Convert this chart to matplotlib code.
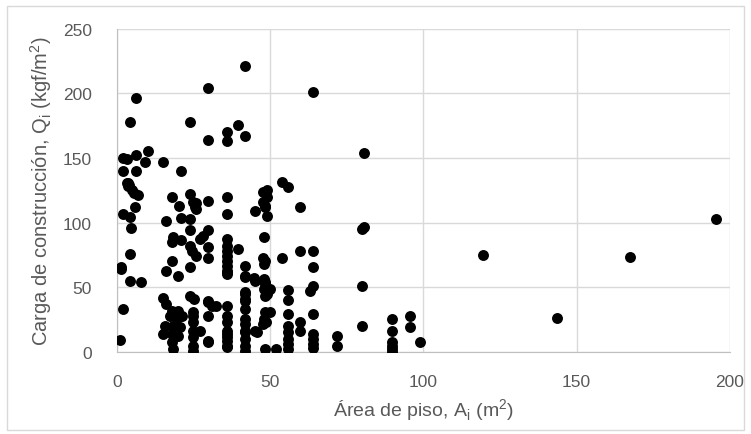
import matplotlib.pyplot as plt
from matplotlib.patches import Rectangle

# Floor area (m2) and construction load (kgf/m2)
area = [
    1.0, 1.3, 1.3,
    2.2, 2.2, 2.2, 2.2,
    3.3, 3.3, 3.6, 4.0, 3.8,
    4.3, 4.6, 4.3, 4.3, 4.2, 4.9, 5.7,
    6.2, 6.2, 6.2, 6.0, 7.0, 7.9, 9.2, 10.1,
    15.2, 15.2, 16.0, 16.0, 16.0,
    17.9, 17.9, 17.9, 18.1, 18.5,
    17.4, 19.6, 21.2, 15.8, 18.5, 20.6, 15.2, 17.9, 20.1, 17.9, 18.5, 20.1,
    20.3, 20.0, 20.9, 20.9, 20.9,
    24.0, 24.0, 24.0, 24.0, 24.0, 24.0, 24.0,
    25.0, 25.5, 24.5, 25.9, 25.2, 25.0, 25.0, 25.0, 25.0, 25.0, 25.0, 25.0,
    26.0, 26.0, 27.2, 27.2, 28.2,
    29.9, 29.9, 29.9, 29.9, 29.9, 29.9, 29.9, 29.9, 29.9, 29.9, 29.9,
    32.4, 31.0,
    35.9, 35.9, 35.9, 35.9, 35.9, 35.9, 35.9, 35.9, 35.9, 35.9, 35.9,
    35.9, 35.9, 35.9, 35.9, 35.9, 35.9, 35.9, 35.9, 35.9, 35.9, 35.9,
    39.7, 39.7,
    41.9, 41.9, 41.9, 41.9, 41.9, 41.9, 41.9, 41.9, 41.9, 41.9, 41.9,
    41.9, 41.9, 41.9, 41.9, 41.9, 41.9,
    45.1, 44.8, 45.1, 45.0, 45.7,
    48.9, 47.8, 48.9, 47.8, 48.4, 48.4, 48.9, 48.0, 47.8, 48.4, 48.0,
    48.0, 48.4, 48.4, 48.0, 48.9, 48.4, 48.4, 48.7, 48.0, 47.8, 48.4,
    50.0, 50.0, 52.0,
    53.8, 53.8,
    56.0, 56.0, 56.0, 56.0, 56.0, 56.0, 56.0, 56.0, 56.0,
    59.8, 59.8, 59.8, 59.8,
    63.9, 63.9, 63.9, 63.9, 63.0, 63.9, 63.9, 63.9, 63.9, 63.9,
    71.8, 71.8,
    80.8, 80.5, 79.9, 79.9, 79.9,
    89.7, 89.7, 89.7, 89.7, 89.7, 89.7,
    95.7, 95.7, 99.0,
    119.5, 143.7, 167.5, 195.3,
]
carga = [
    9.5, 64, 66,
    33, 107, 140, 150,
    149, 131, 131, 129, 128.5,
    104, 96, 75.7, 55, 178, 125.5, 123,
    196, 152, 140, 112, 121.5, 54, 147, 155,
    147, 42, 101.5, 62.8, 37,
    120, 84.8, 32, 70.5, 88.6,
    28, 26.6, 28, 20.3, 20.3, 19, 13.9, 13.9, 12.6, 7.5, 2.3, 31.9,
    112.6, 59, 103.6, 86.6, 140,
    177.5, 122, 103, 94.5, 82, 65.4, 43.5,
    115.7, 112, 78, 74, 41, 30.6, 28, 23, 16.5, 11.4, 4.9, 1,
    115.5, 110.5, 87, 16.5, 90,
    204, 164, 117, 94.5, 81, 73, 39.6, 38.4, 28, 8.7, 7.5,
    35.8, 35.8,
    170, 163, 119.5, 106.6, 87.3, 82, 78, 74, 70.5, 66.7, 63,
    60, 61.6, 35.8, 28, 23, 16.5, 14, 11.4, 8.7, 4.9, 3.6,
    175.4, 79.6,
    221, 167, 66.7, 59, 57.7, 46, 44.8, 41, 39.6, 33, 25.5,
    21.6, 16.5, 15.2, 10, 4.9, 1,
    108.7, 57, 55, 16.5, 15.2,
    125, 123.4, 119.5, 115.7, 113, 112, 105, 88.6, 73, 70.5, 68,
    56.4, 53.9, 52.5, 48.7, 44.8, 43.5, 31, 23, 25.5, 21.6, 2.3,
    49, 30.7, 2.3,
    131.6, 73,
    127.3, 48, 40.4, 29.4, 20.3, 15.2, 10, 6.2, 2.3,
    111.8, 77.8, 23.4, 16.5,
    200.7, 78.3, 65.5, 51, 47.4, 29.4, 13.9, 10, 6.2, 2.9,
    12.6, 4.9,
    153.5, 96.4, 95, 50.8, 20.3,
    25.5, 16.5, 7.5, 4.9, 2.3, 0.2,
    28, 19, 7.5,
    75, 26.3, 73.4, 102.8,
]

x_ticks = [0, 50, 100, 150, 200]
y_ticks = [0, 50, 100, 150, 200, 250]

plt.rcParams['font.family'] = ['Liberation Sans', 'DejaVu Sans']
plt.rcParams['mathtext.fontset'] = 'custom'
plt.rcParams['mathtext.rm'] = 'Liberation Sans'

text_color = '#595959'
grid_color = '#d9d9d9'

fig = plt.figure(figsize=(7.51, 4.35), dpi=100)
ax = fig.add_axes([0.1554, 0.1885, 0.8166, 0.7435])

# chart area border
fig.patches.append(Rectangle((0.009, 0.01), 0.982, 0.975, transform=fig.transFigure,
                             fill=False, edgecolor='#d9d9d9', linewidth=1.0))

ax.scatter(area, carga, s=62, color='black', zorder=3, linewidths=0)

ax.set_xlim(0, 200)
ax.set_ylim(0, 250)
ax.set_xticks(x_ticks)
ax.set_yticks(y_ticks)
ax.grid(True, color=grid_color, linewidth=1.0, zorder=0)
ax.set_axisbelow(True)

for side in ['top', 'right']:
    ax.spines[side].set_visible(False)
ax.spines['left'].set_color('#bfbfbf')
ax.spines['bottom'].set_color('#bfbfbf')

ax.tick_params(length=0, labelsize=12.5, labelcolor=text_color, pad=16)
ax.tick_params(axis='y', pad=18)

ax.set_xlabel(r'Área de piso, A$_\mathregular{i}$ (m$^\mathregular{2}$)',
              fontsize=14, color=text_color, labelpad=5)
ax.set_ylabel(r'Carga de construcción, Q$_\mathregular{i}$ (kgf/m$^\mathregular{2}$)',
              fontsize=14.5, color=text_color, labelpad=6)

plt.savefig('out.png', dpi=100)
